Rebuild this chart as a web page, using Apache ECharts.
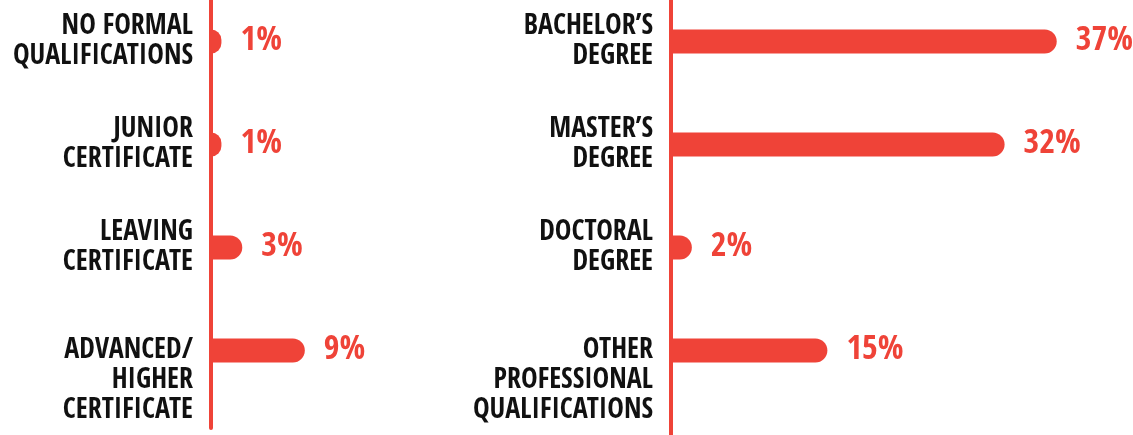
<!DOCTYPE html>
<html>
<head>
<meta charset="utf-8">
<script src="https://cdn.jsdelivr.net/npm/echarts@6/dist/echarts.min.js"></script>
<style>
  html, body { margin: 0; padding: 0; background: #fff; }
  #chart { width: 1133px; height: 435px; }
</style>
</head>
<body>
<div id="chart"></div>
<script>
const leftCategories = ['NO FORMAL\nQUALIFICATIONS', 'JUNIOR\nCERTIFICATE', 'LEAVING\nCERTIFICATE', 'ADVANCED/\nHIGHER\nCERTIFICATE'];
const leftValues = [1, 1, 3, 9];
const rightCategories = ['BACHELOR\u2019S\nDEGREE', 'MASTER\u2019S\nDEGREE', 'DOCTORAL\nDEGREE', 'OTHER\nPROFESSIONAL\nQUALIFICATIONS'];
const rightValues = [37, 32, 2, 15];

const red = '#ef4338';
const font = "'Open Sans Condensed', 'Roboto Condensed', sans-serif";

// 3-line labels sit with their first line on the bar
function catLabel(v) {
  return v.split('\n').length > 2 ? '\n\n' + v : v;
}

function barAxes(idx, cats) {
  return {
    x: { gridIndex: idx, type: 'value', min: 0, max: 40, show: false },
    y: {
      gridIndex: idx,
      type: 'category',
      inverse: true,
      data: cats,
      axisLine: { show: false },
      axisTick: { show: false },
      axisLabel: {
        interval: 0,
        hideOverlap: false,
        margin: 18,
        formatter: catLabel,
        color: '#111',
        fontFamily: font,
        fontWeight: 'bold',
        fontSize: 28,
        lineHeight: 30,
        align: 'right'
      }
    }
  };
}

function lineAxes(idx) {
  return {
    x: { gridIndex: idx, type: 'value', show: false },
    y: {
      gridIndex: idx,
      type: 'value',
      axisLine: { show: true, lineStyle: { color: red, width: 4 } },
      axisTick: { show: false },
      axisLabel: { show: false },
      splitLine: { show: false }
    }
  };
}

function barSeries(idx, values) {
  return {
    type: 'bar',
    xAxisIndex: idx,
    yAxisIndex: idx,
    data: values,
    barWidth: 24,
    itemStyle: { color: red, borderRadius: [0, 12, 12, 0] },
    label: {
      show: true,
      position: 'right',
      distance: 19,
      formatter: '{c}%',
      color: red,
      fontFamily: font,
      fontWeight: 'bold',
      fontSize: 34
    },
    z: 1
  };
}

function initChart() {
  const myChart = echarts.init(document.getElementById('chart'));
  const a0 = barAxes(0, leftCategories);
  const a1 = barAxes(1, rightCategories);
  const a2 = lineAxes(2);
  const a3 = lineAxes(3);
  const option = {
    animation: false,
    grid: [
      { left: 211, top: -10, width: 417, height: 412, outerBoundsMode: 'none' },
      { left: 671, top: -10, width: 417, height: 412, outerBoundsMode: 'none' },
      { left: 211, top: 0, width: 10, height: 428, outerBoundsMode: 'none' },
      { left: 671, top: 0, width: 10, height: 435, outerBoundsMode: 'none' }
    ],
    xAxis: [a0.x, a1.x, a2.x, a3.x],
    yAxis: [a0.y, a1.y, a2.y, a3.y],
    series: [
      barSeries(0, leftValues),
      barSeries(1, rightValues)
    ]
  };
  myChart.setOption(option);
}

initChart();
</script>
</body>
</html>
